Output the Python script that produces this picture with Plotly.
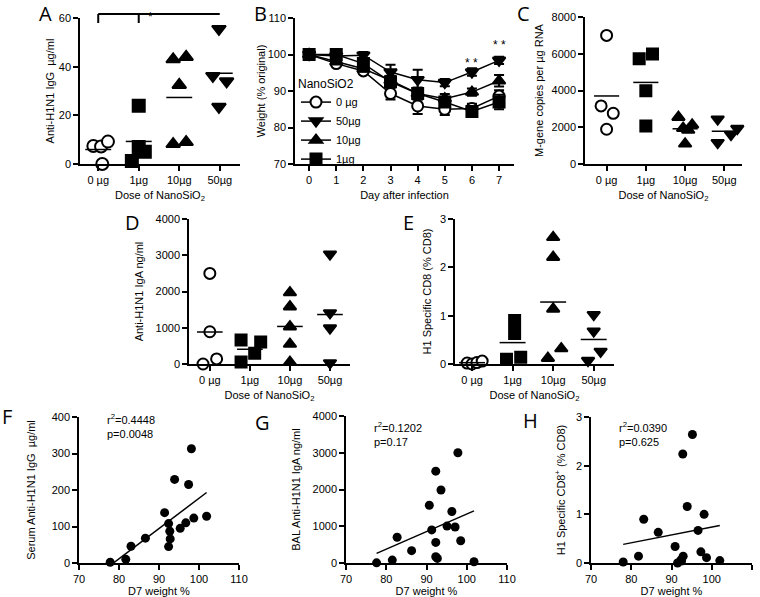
import numpy as np
import plotly.graph_objects as go

W, H = 760, 597

doses = ["0 µg", "1µg", "10µg", "50µg"]

# A: serum anti-H1N1 IgG (µg/ml)
igg_vals = [
    [7.4, 7.2, 9.2, 0.0],
    [23.9, 7.0, 5.0, 1.2],
    [43.0, 44.0, 32.5, 8.2, 9.0],
    [55.5, 36.2, 34.0, 23.5],
]
igg_jit = [
    [-0.12, 0.07, 0.24, 0.1],
    [0.0, 0.0, 0.15, -0.17],
    [-0.15, 0.17, 0.0, -0.15, 0.17],
    [-0.02, -0.17, 0.17, -0.02],
]

# B: weight (% original) by day
days = [0, 1, 2, 3, 4, 5, 6, 7]
w_0ug = [100, 97.5, 95.5, 89.3, 85.9, 85.0, 85.2, 88.6]
w_50ug = [100, 99.6, 99.8, 95.2, 93.1, 92.3, 95.2, 98.4]
w_10ug = [100, 98.0, 96.1, 92.9, 89.3, 87.9, 89.7, 92.8]
w_1ug = [100, 100, 97.5, 92.5, 89.3, 87.0, 84.4, 87.0]
e_0ug = [0, 0.6, 0.8, 1.6, 2.2, 1.6, 1.3, 1.6]
e_50ug = [0, 0.4, 0.9, 2.0, 2.7, 1.0, 1.0, 1.0]
e_10ug = [0, 0.5, 0.8, 1.3, 1.6, 1.3, 1.0, 1.6]
e_1ug = [0, 0.5, 1.0, 1.6, 1.6, 1.4, 1.5, 2.0]

# C: M-gene copies per µg RNA
mgene_vals = [
    [7000, 3160, 2760, 1890],
    [5730, 5980, 3980, 2070],
    [2550, 1950, 1850, 2130, 1100],
    [2440, 1160, 1600, 1930],
]
mgene_jit = [
    [0.0, -0.14, 0.17, 0.0],
    [-0.17, 0.17, 0.0, 0.0],
    [-0.17, -0.05, 0.08, 0.18, 0.0],
    [-0.17, -0.17, 0.17, 0.33],
]

# D: anti-H1N1 IgA (ng/ml)
iga_vals = [
    [2500, 890, 140, 0],
    [660, 610, 300, 55],
    [1970, 1580, 1030, 550, 50],
    [3030, 1410, 990, 30],
]
iga_jit = [
    [0.0, 0.0, 0.17, -0.17],
    [-0.22, 0.27, 0.12, -0.22],
    [0, 0, 0, 0, 0],
    [0, 0, 0, 0],
]

# E: H1 specific CD8 (% CD8)
cd8_vals = [
    [0.02, 0.0, 0.03, 0.06],
    [0.9, 0.63, 0.1, 0.14],
    [2.62, 2.21, 1.14, 0.32, 0.12],
    [1.02, 0.68, 0.26, 0.07],
]
cd8_jit = [
    [-0.12, 0.0, 0.12, 0.25],
    [0.05, 0.05, -0.15, 0.2],
    [0, 0, 0, 0.2, -0.13],
    [0, 0, 0.17, -0.14],
]

# F-H: correlations with D7 weight
f_weight = [77.8, 81.7, 83.0, 86.6, 91.4, 92.4, 92.7, 92.8, 92.4, 93.9, 95.3, 96.7, 97.4, 98.1, 98.7, 101.9]
f_igg = [2, 10, 46, 68, 138, 108, 87, 66, 45, 229, 95, 110, 215, 313, 123, 128]
g_weight = [77.6, 81.5, 82.7, 86.3, 90.7, 91.3, 92.3, 92.3, 92.3, 92.7, 93.6, 95.1, 96.3, 97.1, 97.8, 98.5, 101.8]
g_iga = [5, 80, 700, 335, 1570, 900, 2500, 560, 170, 125, 1985, 1005, 1400, 980, 3000, 605, 35]
h_weight = [78.0, 81.8, 83.1, 86.7, 90.9, 91.5, 92.3, 92.5, 92.8, 92.9, 93.9, 95.2, 96.6, 97.3, 98.1, 98.7, 102.0]
h_cd8 = [0.02, 0.14, 0.90, 0.63, 0.34, 0.0, 0.06, 0.04, 2.24, 0.14, 1.16, 2.64, 0.67, 0.23, 1.0, 0.11, 0.05]

stats_f = ["r<sup>2</sup>=0.4448", "p=0.0048"]
stats_g = ["r<sup>2</sup>=0.1202", "p=0.17"]
stats_h = ["r<sup>2</sup>=0.0390", "p=0.625"]

FONT = "Liberation Sans"
symbols = ["circle", "square", "triangle-up", "triangle-down"]
fills = ["white", "black", "black", "black"]


def dx(a, b):
    return [a / W, b / W]


def dy(top, bottom):
    return [1 - bottom / H, 1 - top / H]


fig = go.Figure()


def dot_panel(vals, jit, ax, size=12):
    xa, ya = "x" + ax, "y" + ax
    for i, (v, j) in enumerate(zip(vals, jit)):
        fig.add_trace(go.Scatter(
            x=[i + o for o in j], y=v, mode="markers", xaxis=xa, yaxis=ya,
            marker=dict(symbol=symbols[i], size=size, color=fills[i],
                        line=dict(color="black", width=2)),
            showlegend=False, cliponaxis=False))
        m = float(np.mean(v))
        fig.add_trace(go.Scatter(
            x=[i - 0.32, i + 0.32], y=[m, m], mode="lines", xaxis=xa, yaxis=ya,
            line=dict(color="black", width=1.5), showlegend=False))


dot_panel(igg_vals, igg_jit, "", 12)
dot_panel(mgene_vals, mgene_jit, "3", 11)
dot_panel(iga_vals, iga_jit, "4", 11)
dot_panel(cd8_vals, cd8_jit, "5", 11)

# B: weight curves
for name, w, e, sym, fc in [
    ("0 µg", w_0ug, e_0ug, "circle", "white"),
    ("50µg", w_50ug, e_50ug, "triangle-down", "black"),
    ("10µg", w_10ug, e_10ug, "triangle-up", "black"),
    ("1µg", w_1ug, e_1ug, "square", "black"),
]:
    fig.add_trace(go.Scatter(
        x=days, y=w, name=name, mode="lines+markers", xaxis="x2", yaxis="y2",
        line=dict(color="black", width=1.5),
        marker=dict(symbol=sym, size=11, color=fc, line=dict(color="black", width=2)),
        error_y=dict(type="data", array=e, color="black", thickness=2, width=5)))

# F-H scatter + regression
for wx, yv, ax in [(f_weight, f_igg, "6"), (g_weight, g_iga, "7"), (h_weight, h_cd8, "8")]:
    fig.add_trace(go.Scatter(
        x=wx, y=yv, mode="markers", xaxis="x" + ax, yaxis="y" + ax,
        marker=dict(size=9, color="black"), showlegend=False, cliponaxis=False))
    k, b = np.polyfit(wx, yv, 1)
    xs = [min(wx), max(wx)]
    fig.add_trace(go.Scatter(
        x=xs, y=[k * x + b for x in xs], mode="lines", xaxis="x" + ax, yaxis="y" + ax,
        line=dict(color="black", width=1.5), showlegend=False))

tickf = dict(family=FONT, size=11, color="black")
titlef = dict(family=FONT, size=11, color="black")
base = dict(showline=True, linecolor="black", linewidth=1.5, ticks="outside",
            ticklen=5, tickwidth=1.5, tickcolor="black", showgrid=False,
            zeroline=False, tickfont=tickf, title_font=titlef, automargin=False)


def cat_x(dom, rng, anchor):
    return dict(base, domain=dom, range=rng, anchor=anchor, tickmode="array",
                tickvals=[0, 1, 2, 3], ticktext=doses,
                title=dict(text="Dose of NanoSiO<sub>2</sub>", standoff=6))


layout = dict(
    template="none",
    width=W, height=H, margin=dict(l=0, r=0, t=0, b=0, autoexpand=False),
    plot_bgcolor="white", paper_bgcolor="white",
    font=dict(family=FONT, color="black"),
    xaxis=cat_x(dx(80, 240), [-0.45, 3.5], "y"),
    yaxis=dict(base, domain=dy(18, 164), range=[0, 60], dtick=20, anchor="x",
               title=dict(text="Anti-H1N1 IgG  µg/ml", standoff=2)),
    xaxis2=dict(base, domain=dx(295, 514), range=[-0.52, 7.55], dtick=1, anchor="y2",
                title=dict(text="Day after infection", standoff=6)),
    yaxis2=dict(base, domain=dy(18, 164), range=[70, 110], dtick=10, anchor="x2",
                title=dict(text="Weight (% original)", standoff=0)),
    xaxis3=cat_x(dx(585, 742), [-0.55, 3.45], "y3"),
    yaxis3=dict(base, domain=dy(17, 164), range=[0, 8000], dtick=2000, anchor="x3",
                title=dict(text="M-gene copies per µg RNA", standoff=6)),
    xaxis4=cat_x(dx(189, 350), [-0.52, 3.5], "y4"),
    yaxis4=dict(base, domain=dy(219, 364), range=[0, 4000], dtick=1000, anchor="x4",
                title=dict(text="Anti-H1N1 IgA ng/ml", standoff=10)),
    xaxis5=cat_x(dx(455, 614), [-0.42, 3.5], "y5"),
    yaxis5=dict(base, domain=dy(219, 364), range=[0, 3], dtick=1, anchor="x5",
                title=dict(text="H1 Specific CD8 (% CD8)", standoff=6)),
    xaxis6=dict(base, domain=dx(79, 239), range=[70, 110], dtick=10, anchor="y6",
                title=dict(text="D7 weight %", standoff=6)),
    yaxis6=dict(base, domain=dy(417, 563), range=[0, 400], dtick=100, anchor="x6",
                title=dict(text="Serum Anti-H1N1 IgG  µg/ml", standoff=14)),
    xaxis7=dict(base, domain=dx(346, 507), range=[70, 110], dtick=10, anchor="y7",
                title=dict(text="D7 weight %", standoff=6)),
    yaxis7=dict(base, domain=dy(416, 563), range=[0, 4000], dtick=1000, anchor="x7",
                title=dict(text="BAL Anti-H1N1 IgA ng/ml", standoff=10)),
    xaxis8=dict(base, domain=dx(591, 752), range=[70, 110], dtick=10, anchor="y8",
                title=dict(text="D7 weight %", standoff=6)),
    yaxis8=dict(base, domain=dy(417, 563), range=[0, 3], dtick=1, anchor="x8",
                title=dict(text="H1 Specific CD8<sup>+</sup> (% CD8)", standoff=8)),
    legend=dict(x=296 / W, y=1 - 72 / H, xanchor="left", yanchor="top",
                bgcolor="rgba(0,0,0,0)", font=dict(family=FONT, size=11),
                title=dict(text="NanoSiO2", font=dict(family=FONT, size=12)),
                itemwidth=30, tracegroupgap=0),
)
fig.update_layout(**layout)

# panel letters
letters = [("A", 45, 14), ("B", 260, 14), ("C", 523, 14), ("D", 132, 222),
           ("E", 408, 222), ("F", 7, 416), ("G", 262, 422), ("H", 530, 420)]
for t, x, y in letters:
    fig.add_annotation(text=t, x=x / W, y=1 - y / H, xref="paper", yref="paper",
                       xanchor="center", yanchor="middle",
                       showarrow=False, font=dict(family="Open Sans", size=20, color="black"))

# stats text
for lines, x, y0 in [(stats_f, 105, 419), (stats_g, 372, 427), (stats_h, 617, 427)]:
    for k, s in enumerate(lines):
        fig.add_annotation(text=s, x=x / W, y=1 - (y0 + k * 15) / H, xref="paper", yref="paper",
                           xanchor="left", yanchor="middle", showarrow=False,
                           font=dict(family=FONT, size=11))

# significance
fig.add_annotation(text="* *", x=6, y=97.6, xref="x2", yref="y2", showarrow=False,
                   font=dict(family=FONT, size=12))
fig.add_annotation(text="* *", x=7, y=102.6, xref="x2", yref="y2", showarrow=False,
                   font=dict(family=FONT, size=12))
fig.add_shape(type="line", x0=0, x1=3, y0=1 - 14 / H, y1=1 - 14 / H, xref="x", yref="paper",
              line=dict(color="black", width=2))
for xi in [0, 1]:
    fig.add_shape(type="line", x0=xi, x1=xi, y0=1 - 14 / H, y1=1 - 23 / H, xref="x", yref="paper",
                  line=dict(color="black", width=2))
fig.add_annotation(text="*", x=1.3, y=1 - 8 / H, xref="x", yref="paper", showarrow=False,
                   font=dict(family=FONT, size=12))

fig.write_html("out.html", config={"displayModeBar": False},
               post_script="document.body.style.margin='0';")
